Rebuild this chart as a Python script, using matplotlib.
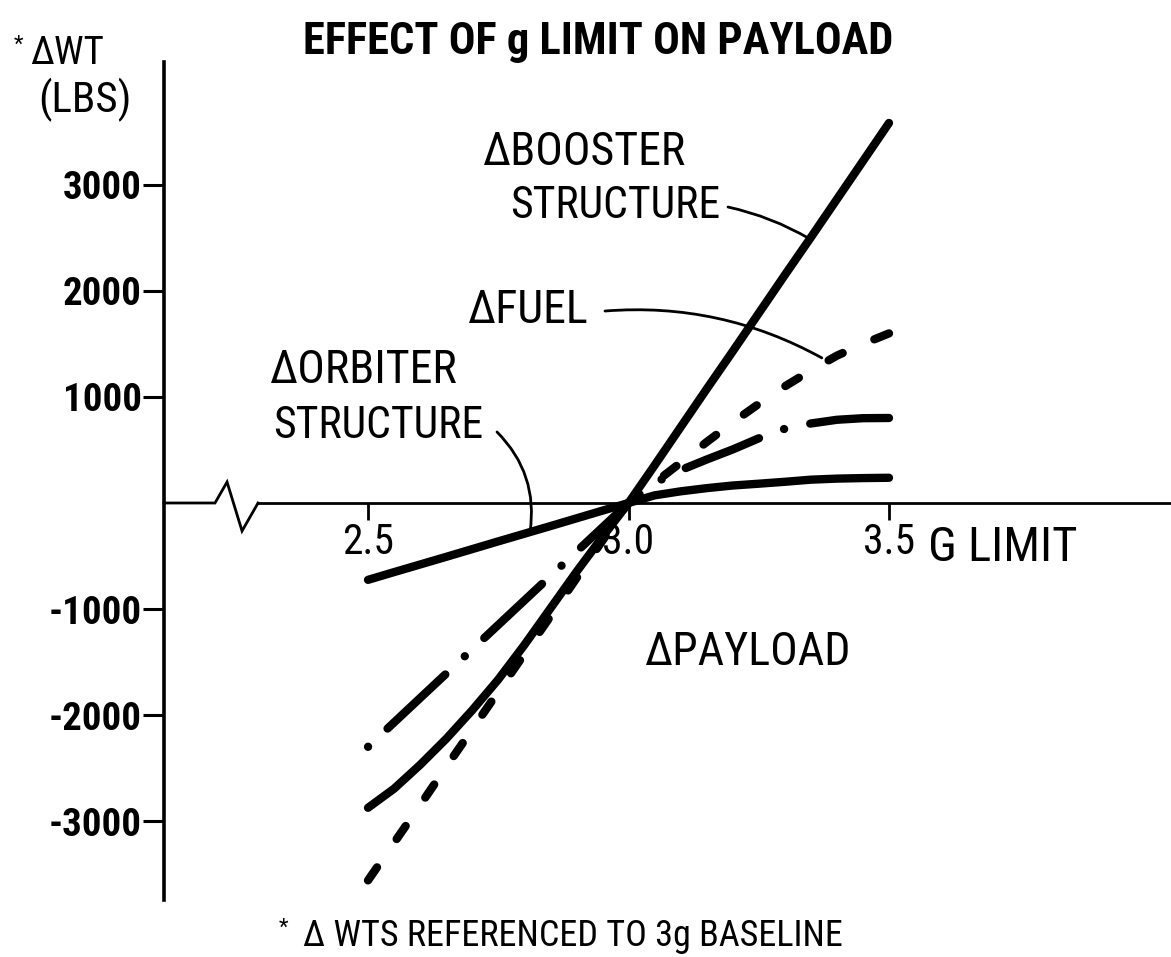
import numpy as np
import matplotlib
matplotlib.use("Agg")
import matplotlib.pyplot as plt
from matplotlib import font_manager

# weight change (lbs) against g limit, all referenced to the 3g baseline
g_limit = [2.5, 2.55, 2.6, 2.65, 2.7, 2.75, 2.8, 2.85, 2.9, 2.95, 3.0,
           3.05, 3.1, 3.15, 3.2, 3.25, 3.3, 3.35, 3.4, 3.45, 3.5]
d_booster = [-2875, -2695, -2470, -2225, -1955, -1665, -1340, -995, -650, -320, 0,
             355, 715, 1075, 1430, 1790, 2150, 2505, 2865, 3225, 3585]
d_fuel = [-3560, -3205, -2850, -2490, -2135, -1780, -1425, -1070, -710, -355, 0,
          190, 380, 575, 760, 935, 1100, 1250, 1390, 1500, 1600]
d_dashdot = [-2300, -2070, -1840, -1610, -1380, -1150, -920, -690, -460, -230, 0,
             190, 310, 410, 505, 610, 700, 750, 785, 800, 802]
d_orbiter = [-725, -652, -580, -508, -435, -362, -290, -218, -145, -72, 0,
             72, 110, 140, 165, 182, 200, 220, 230, 235, 238]

y_ticks = [-3000, -2000, -1000, 1000, 2000, 3000]
x_ticks = [2.5, 3.0, 3.5]
x_tick_labels = ["2.5", "3.0", "3.5"]

LW = 6  # curve width, points


def pick_narrow_font():
    avail = {(f.name, f.stretch) for f in font_manager.fontManager.ttflist}
    names = {n for n, _ in avail}
    prefs = [
        ("Roboto Condensed", "normal"),
        ("Liberation Sans Narrow", "normal"),
        ("Noto Sans ExtraCondensed", "normal"),
        ("Noto Sans", "extra-condensed"),
        ("Noto Sans Condensed", "normal"),
        ("Noto Sans", "condensed"),
        ("DejaVu Sans", "condensed"),
    ]
    for name, stretch in prefs:
        if name in names and (stretch == "normal" or (name, stretch) in avail):
            return name, stretch
    return "Liberation Sans", "normal"


def length_in_lw(ax, xs, ys):
    # on-screen length of a curve, in units of the line width
    pts = ax.transData.transform(np.column_stack([xs, ys]))
    length_pt = np.hypot(*np.diff(pts, axis=0).T).sum() * 72 / ax.figure.dpi
    return length_pt / LW


def dashed_style(ax, xs, ys, on=1.9, off=4.0):
    # stretch the gaps a little so the curve ends on a dash
    L = length_in_lw(ax, xs, ys)
    n = max(1, round((L - on) / (on + off)))
    return (0, (on, (L - on) / n - on))


def dashdot_style(ax, xs, ys, dash=9.6, gap=3.2, dot=0.01):
    # long dash first, finishing on a dot at the far end; the dashes take up the slack
    L = length_in_lw(ax, xs, ys)
    n = max(1, round((L - dash - gap - dot) / (dash + 2 * gap + dot)))
    d = (L - (2 * n + 1) * gap - (n + 1) * dot) / (n + 1)
    return (0, (d, gap, dot, gap))


font_name, font_stretch = pick_narrow_font()
plt.rcParams["font.family"] = [font_name, "DejaVu Sans"]
plt.rcParams["font.stretch"] = font_stretch

W, H = 1171, 957
fig = plt.figure(figsize=(W / 100, H / 100), dpi=100)
ax = fig.add_axes([164 / W, 57 / H, 1007 / W, 838 / H])
ax.set_xlim(2.1084, 4.0413)
ax.set_ylim(-3745, 4160)

# axes: plain left spine, x axis through zero with a break near the origin
for side in ("top", "right"):
    ax.spines[side].set_visible(False)
ax.spines["left"].set_linewidth(2.6)
ax.spines["bottom"].set_position(("data", 0))
ax.spines["bottom"].set_linewidth(2.0)
ax.spines["bottom"].set_bounds(2.2889, 4.0413)
ax.plot([2.1084, 2.2063, 2.2294, 2.2582, 2.2889], [0, 0, 198, -264, 0],
        color="black", lw=2.0, solid_joinstyle="miter", clip_on=False, zorder=2)

ax.set_yticks(y_ticks)
ax.set_yticklabels([str(v) for v in y_ticks], fontsize=28, fontweight="bold")
ax.set_xticks(x_ticks)
ax.set_xticklabels(x_tick_labels, fontsize=30)
ax.tick_params(axis="y", direction="out", length=15, width=2.2, pad=1)
ax.tick_params(axis="x", direction="out", length=12, width=2.0, pad=2)

# curves are drawn from the 3.5 end so the dash patterns start there
g_rev = g_limit[::-1]
fuel_rev = d_fuel[::-1]
dashdot_rev = d_dashdot[::-1]
line_kw = dict(color="black", lw=LW, solid_capstyle="round", dash_capstyle="round", zorder=4)
ax.plot(g_rev, d_orbiter[::-1], **line_kw)
ax.plot(g_rev, dashdot_rev, linestyle=dashdot_style(ax, g_rev, dashdot_rev), **line_kw)
ax.plot(g_rev, fuel_rev, linestyle=dashed_style(ax, g_rev, fuel_rev), **line_kw)
ax.plot(g_rev, d_booster[::-1], **line_kw)

label_kw = dict(va="center", ha="left")
ax.text(2.7207, 3311, "\u0394BOOSTER", fontsize=33, **label_kw)
ax.text(2.7726, 2802, "STRUCTURE", fontsize=31.5, **label_kw)
ax.text(2.6919, 1821, "\u0394FUEL", fontsize=33, **label_kw)
ax.text(2.3119, 1255, "\u0394ORBITER", fontsize=33, **label_kw)
ax.text(2.3177, 726, "STRUCTURE", fontsize=31.5, **label_kw)
ax.text(3.0317, -1406, "\u0394PAYLOAD", fontsize=33, **label_kw)
ax.text(3.5749, -425, "G LIMIT", fontsize=35, **label_kw)

# leader lines from the labels to their curves
lead_kw = dict(arrowstyle="-", lw=2.0, color="black", shrinkA=0, shrinkB=0)
xb = 3.348
ax.annotate("", xy=(xb, np.interp(xb, g_limit, d_booster)), xytext=(3.191, 2792),
            arrowprops=dict(connectionstyle="arc3,rad=-0.08", **lead_kw))
xf = 3.371
ax.annotate("", xy=(xf, np.interp(xf, g_limit, d_fuel) + 60), xytext=(2.9549, 1811),
            arrowprops=dict(connectionstyle="arc3,rad=-0.15", **lead_kw))
xo = 2.811
ax.annotate("", xy=(xo, np.interp(xo, g_limit, d_orbiter)), xytext=(2.7476, 670),
            arrowprops=dict(connectionstyle="arc3,rad=-0.25", **lead_kw))

# title, axis caption and footnote
fig.text(598 / W, 1 - 42 / H, "EFFECT OF g LIMIT ON PAYLOAD", fontsize=32,
         fontweight="bold", ha="center", va="center")
fig.text(18 / W, 1 - 45 / H, "*", fontsize=16, ha="center", va="center")
fig.text(30 / W, 1 - 53 / H, "\u0394WT", fontsize=28, ha="left", va="center")
fig.text(38 / W, 1 - 100 / H, "(LBS)", fontsize=31, ha="left", va="center")
fig.text(283 / W, 1 - 928 / H, "*", fontsize=16, ha="center", va="center")
fig.text(303 / W, 1 - 936 / H, "\u0394 WTS REFERENCED TO 3g BASELINE", fontsize=26,
         ha="left", va="center")

fig.savefig("out.png", dpi=100, facecolor="white")
